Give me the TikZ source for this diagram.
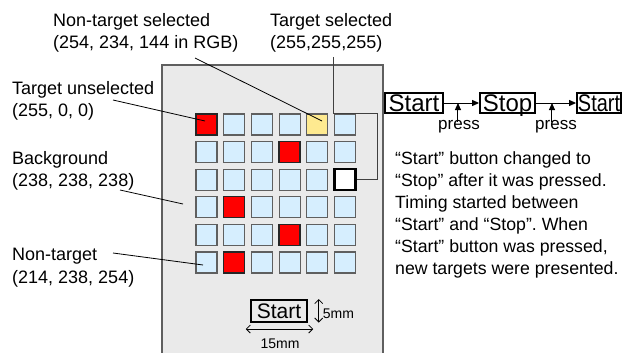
\documentclass[tikz,border=0pt]{standalone}
\usepackage{fontspec}
\setmainfont{Liberation Sans}
\usetikzlibrary{arrows.meta,calc}
\definecolor{bgc}{RGB}{234,234,234}
\definecolor{ntc}{RGB}{214,238,254}
\definecolor{ysel}{RGB}{254,234,144}
\definecolor{edgec}{RGB}{95,95,95}
\frenchspacing
\begin{document}
\begin{tikzpicture}[x=1pt,y=-1pt,
  lbl/.style={font=\fontsize{18}{22.5}\selectfont, align=left, inner sep=0, anchor=north west},
  sq/.style={draw=edgec, fill=ntc, minimum size=21pt, inner sep=0, line width=1.1pt},
  redsq/.style={sq, fill=red, draw=black!85, line width=1.3pt},
  conn/.style={draw=black, line width=0.8pt},
  btn/.style={draw=black, line width=1.8pt, inner xsep=1.5pt, inner ysep=1.2pt, text height=17pt, text depth=0pt, font=\fontsize{24}{24}\selectfont},
  arr/.style={draw=black, line width=1pt, -{Triangle[length=7pt,width=6pt]}},
  dbl/.style={draw=black, line width=0.8pt, {Straight Barb[length=4pt,width=8pt]}-{Straight Barb[length=4pt,width=8pt]}},
  small/.style={font=\fontsize{14}{14}\selectfont, inner sep=0}
]
\useasboundingbox (0,0) rectangle (626,353);
% panel
\fill[bgc] (162,65) rectangle (383,360);
\draw[edgec, line width=1.2pt] (162,360) -- (162,65) -- (383,65) -- (383,360);
% grid
\foreach \r in {1,...,6}{
  \foreach \c in {1,...,6}{
    \node[sq] (s\r\c) at ({206.5+27.7*(\c-1)},{124.5+27.6*(\r-1)}) {};
  }
}
\node[redsq] (r1) at (s11) {};
\node[redsq] (r2) at (s24) {};
\node[redsq] (r3) at (s42) {};
\node[redsq] (r4) at (s54) {};
\node[redsq] (r5) at (s62) {};
\node[sq, fill=ysel] (y1) at (s15) {};
\node[sq, fill=white, draw=black, line width=2.4pt] (w1) at (s36) {};
% labels
\node[lbl] (ntsel) at (53,13) {Non-target selected\\(254, 234, 144 in RGB)};
\node[lbl] (tsel) at (270,13) {Target selected\\(255,255,255)};
\node[lbl] (tun) at (12,81) {Target unselected\\(255, 0, 0)};
\node[lbl] (bg) at (12,151) {Background\\(238, 238, 238)};
\node[lbl] (nt) at (12,248) {Non-target\\(214, 238, 254)};
% connectors
\coordinate (a1) at (195,58);
\draw[conn] (a1) -- ($(y1.center)+(4.7,-3.5)$);
\coordinate (a2) at (113,100);
\draw[conn] (a2) -- ($(r1.center)+(-1.5,-3.5)$);
\coordinate (a3) at (120,190);
\coordinate (a3e) at (183,204);
\draw[conn] (a3) -- (a3e);
\coordinate (a4) at (113,253);
\draw[conn] (a4) -- ($(s61.center)+(-3.5,2.5)$);
\coordinate (a5) at (333,57);
\coordinate (a6) at (377,113);
\draw[conn, draw=black!75] (a5) |- (a6) |- (w1.east);
% bottom start button
\node[btn, font=\fontsize{21}{21}\selectfont, text height=15pt, minimum width=56.6pt, minimum height=21.7pt] (b0) at (279,310.8) {Start};
\draw[dbl] ($(b0.north east)+(10.5,0)$) -- ($(b0.south east)+(10.5,0)$);
\node[small, anchor=west] (mm5) at ($(b0.east)+(14.5,3)$) {5mm};
\draw[dbl] ($(b0.south west)+(-4,6.5)$) -- ($(b0.south east)+(5,6.5)$);
\node[small] (mm15) at (280,344) {15mm};
% sequence
\node[btn, minimum width=58pt, minimum height=20pt] (q1) at (414,103) {Start};
\node[btn, minimum width=55pt, minimum height=20pt] (q2) at (507.5,103) {Stop};
\node[btn, minimum width=44pt, minimum height=20pt, inner xsep=0.5pt] (q3) at (599,103) {\scalebox{0.83}[1]{Start}};
\draw[arr] (q1.east) -- (q2.west);
\draw[arr] (q2.east) -- (q3.west);
\coordinate (p1) at ($(q1.east)!0.4!(q2.west)$);
\coordinate (p2) at ($(q2.east)!0.4!(q3.west)$);
\node[font=\fontsize{17}{17}\selectfont, inner sep=0, anchor=north] (pr1) at ($(p1)+(1,17)$) {press};
\node[font=\fontsize{17}{17}\selectfont, inner sep=0, anchor=north] (pr2) at ($(p2)+(4,17)$) {press};
\draw[arr] ($(p1)+(0,18.5)$) -- (p1);
\draw[arr] ($(p2)+(0,18.5)$) -- (p2);
% paragraph
\node[lbl, font=\fontsize{17.7}{22}\selectfont] (para) at (395,151) {“Start” button changed to\\“Stop” after it was pressed.\\Timing started between\\“Start” and “Stop”. When\\“Start” button was pressed,\\new targets were presented.};
\end{tikzpicture}
\end{document}
